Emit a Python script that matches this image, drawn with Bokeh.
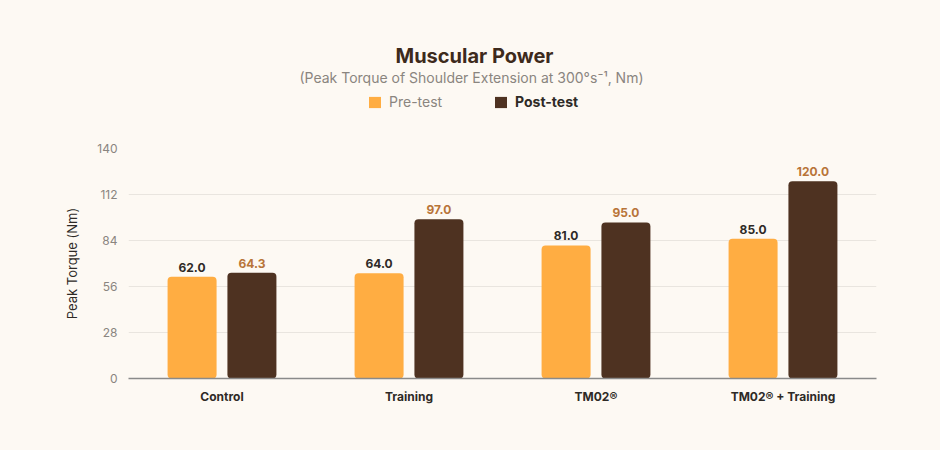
from bokeh.plotting import figure
from bokeh.layouts import column
from bokeh.models import (ColumnDataSource, FactorRange, Range1d, FixedTicker, Label,
                          LabelSet, Legend, LegendItem)
from bokeh.core.properties import value
from bokeh.transform import dodge
from bokeh.embed import file_html
from bokeh.resources import INLINE

categories = ["Control", "Training", "TM02®", "TM02® + Training"]
pre_test = [62.0, 64.0, 81.0, 85.0]
post_test = [64.3, 97.0, 95.0, 120.0]
y_ticks = [0, 28, 56, 84, 112, 140]

FONT = "Inter"
BG = "#fdf9f3"
PRE_C = "#ffad42"
POST_C = "#4e3221"

src = ColumnDataSource(dict(
    cat=categories, pre=pre_test, post=post_test,
    pre_lbl=[f"{v:.1f}" for v in pre_test],
    post_lbl=[f"{v:.1f}" for v in post_test],
))

# ---------- header (title, subtitle, legend) ----------
h = figure(width=940, height=130, x_range=Range1d(0, 940), y_range=Range1d(0, 130),
           x_axis_type=None, y_axis_type=None, output_backend="svg", toolbar_location=None,
           title=None, min_border=0, background_fill_color=BG, border_fill_color=BG,
           outline_line_color=None)
h.xgrid.visible = False
h.ygrid.visible = False

h.add_layout(Label(x=346, y=75, x_units="screen", y_units="screen", text="Muscular Power",
                   text_align="center", text_baseline="middle", text_font=FONT,
                   text_font_size="20px", text_font_style="bold", text_color="#3d2a1c"))
h.add_layout(Label(x=343, y=53, x_units="screen", y_units="screen",
                   text="(Peak Torque of Shoulder Extension at 300°s⁻¹, Nm)",
                   text_align="center", text_baseline="middle", text_font=FONT,
                   text_font_size="14px", text_color="#8a857f"))

hr_pre = h.vbar(x=[0] * len(pre_test), top=pre_test, width=1, fill_color=PRE_C,
                line_color=None, border_radius=3, visible=False)
hr_post = h.vbar(x=[0] * len(post_test), top=post_test, width=1, fill_color=POST_C,
                 line_color=None, border_radius=3, visible=False)

def mk_legend(item, x, y, color, style):
    return Legend(items=[item], location=(x, y), orientation="horizontal",
                  background_fill_alpha=0, border_line_color=None, padding=0, margin=0,
                  glyph_width=15, glyph_height=14, label_standoff=7,
                  label_text_font=FONT, label_text_font_size="14px",
                  label_text_color=color, label_text_font_style=style,
                  click_policy="none")

h.add_layout(mk_legend(LegendItem(label="Pre-test", renderers=[hr_pre]), 239, 20, "#8a857f", "normal"))
h.add_layout(mk_legend(LegendItem(label="Post-test", renderers=[hr_post]), 365, 20, "#2e2a26", "bold"))

# ---------- main chart ----------
p = figure(width=940, height=320, x_range=FactorRange(factors=categories, range_padding=0),
           y_range=Range1d(0, 140), output_backend="svg", toolbar_location=None,
           title=None, min_border_left=128, min_border_right=64,
           min_border_top=18, min_border_bottom=72,
           background_fill_color=BG, border_fill_color=BG, outline_line_color=None)

r_pre = p.vbar(x=dodge("cat", -0.16, range=p.x_range), top="pre", width=0.262, source=src,
               fill_color=PRE_C, line_color=None, border_radius=4)
r_post = p.vbar(x=dodge("cat", 0.16, range=p.x_range), top="post", width=0.262, source=src,
                fill_color=POST_C, line_color=None, border_radius=4)

p.add_layout(LabelSet(x=dodge("cat", -0.16, range=p.x_range), y="pre", text="pre_lbl",
                      source=src, y_offset=5, text_align="center", text_baseline="bottom",
                      text_font=value(FONT), text_font_size="12px", text_font_style="bold",
                      text_color="#2e2a26"))
p.add_layout(LabelSet(x=dodge("cat", 0.16, range=p.x_range), y="post", text="post_lbl",
                      source=src, y_offset=5, text_align="center", text_baseline="bottom",
                      text_font=value(FONT), text_font_size="12px", text_font_style="bold",
                      text_color="#b87438"))

p.xgrid.grid_line_color = None
p.ygrid.grid_line_color = "#e9e5df"
p.ygrid.grid_line_width = 1.2
p.yaxis.ticker = FixedTicker(ticks=y_ticks)
p.yaxis.axis_line_color = None
p.yaxis.major_tick_line_color = None
p.yaxis.major_tick_out = 0
p.yaxis.major_tick_in = 0
p.yaxis.minor_tick_line_color = None
p.yaxis.major_label_text_font = FONT
p.yaxis.major_label_text_font_size = "12px"
p.yaxis.major_label_text_color = "#8a857f"
p.yaxis.major_label_standoff = 11
p.yaxis.axis_label = "Peak Torque (Nm)"
p.yaxis.axis_label_text_font = FONT
p.yaxis.axis_label_text_font_size = "13px"
p.yaxis.axis_label_text_font_style = "normal"
p.yaxis.axis_label_text_color = "#2e2a26"
p.yaxis.axis_label_standoff = 14

p.xaxis.axis_line_color = "#8a8a8a"
p.xaxis.axis_line_width = 1.5
p.xaxis.major_tick_line_color = None
p.xaxis.major_tick_out = 0
p.xaxis.major_tick_in = 0
p.xaxis.minor_tick_line_color = None
p.xaxis.major_label_text_font = FONT
p.xaxis.major_label_text_font_size = "12px"
p.xaxis.major_label_text_font_style = "bold"
p.xaxis.major_label_text_color = "#2e2a26"
p.xaxis.major_label_standoff = 10

layout = column(h, p, spacing=0)
html = file_html(layout, INLINE)
html = html.replace("<head>", "<head><style>body{background:%s;}</style>" % BG, 1)
open("out.html", "w").write(html)
